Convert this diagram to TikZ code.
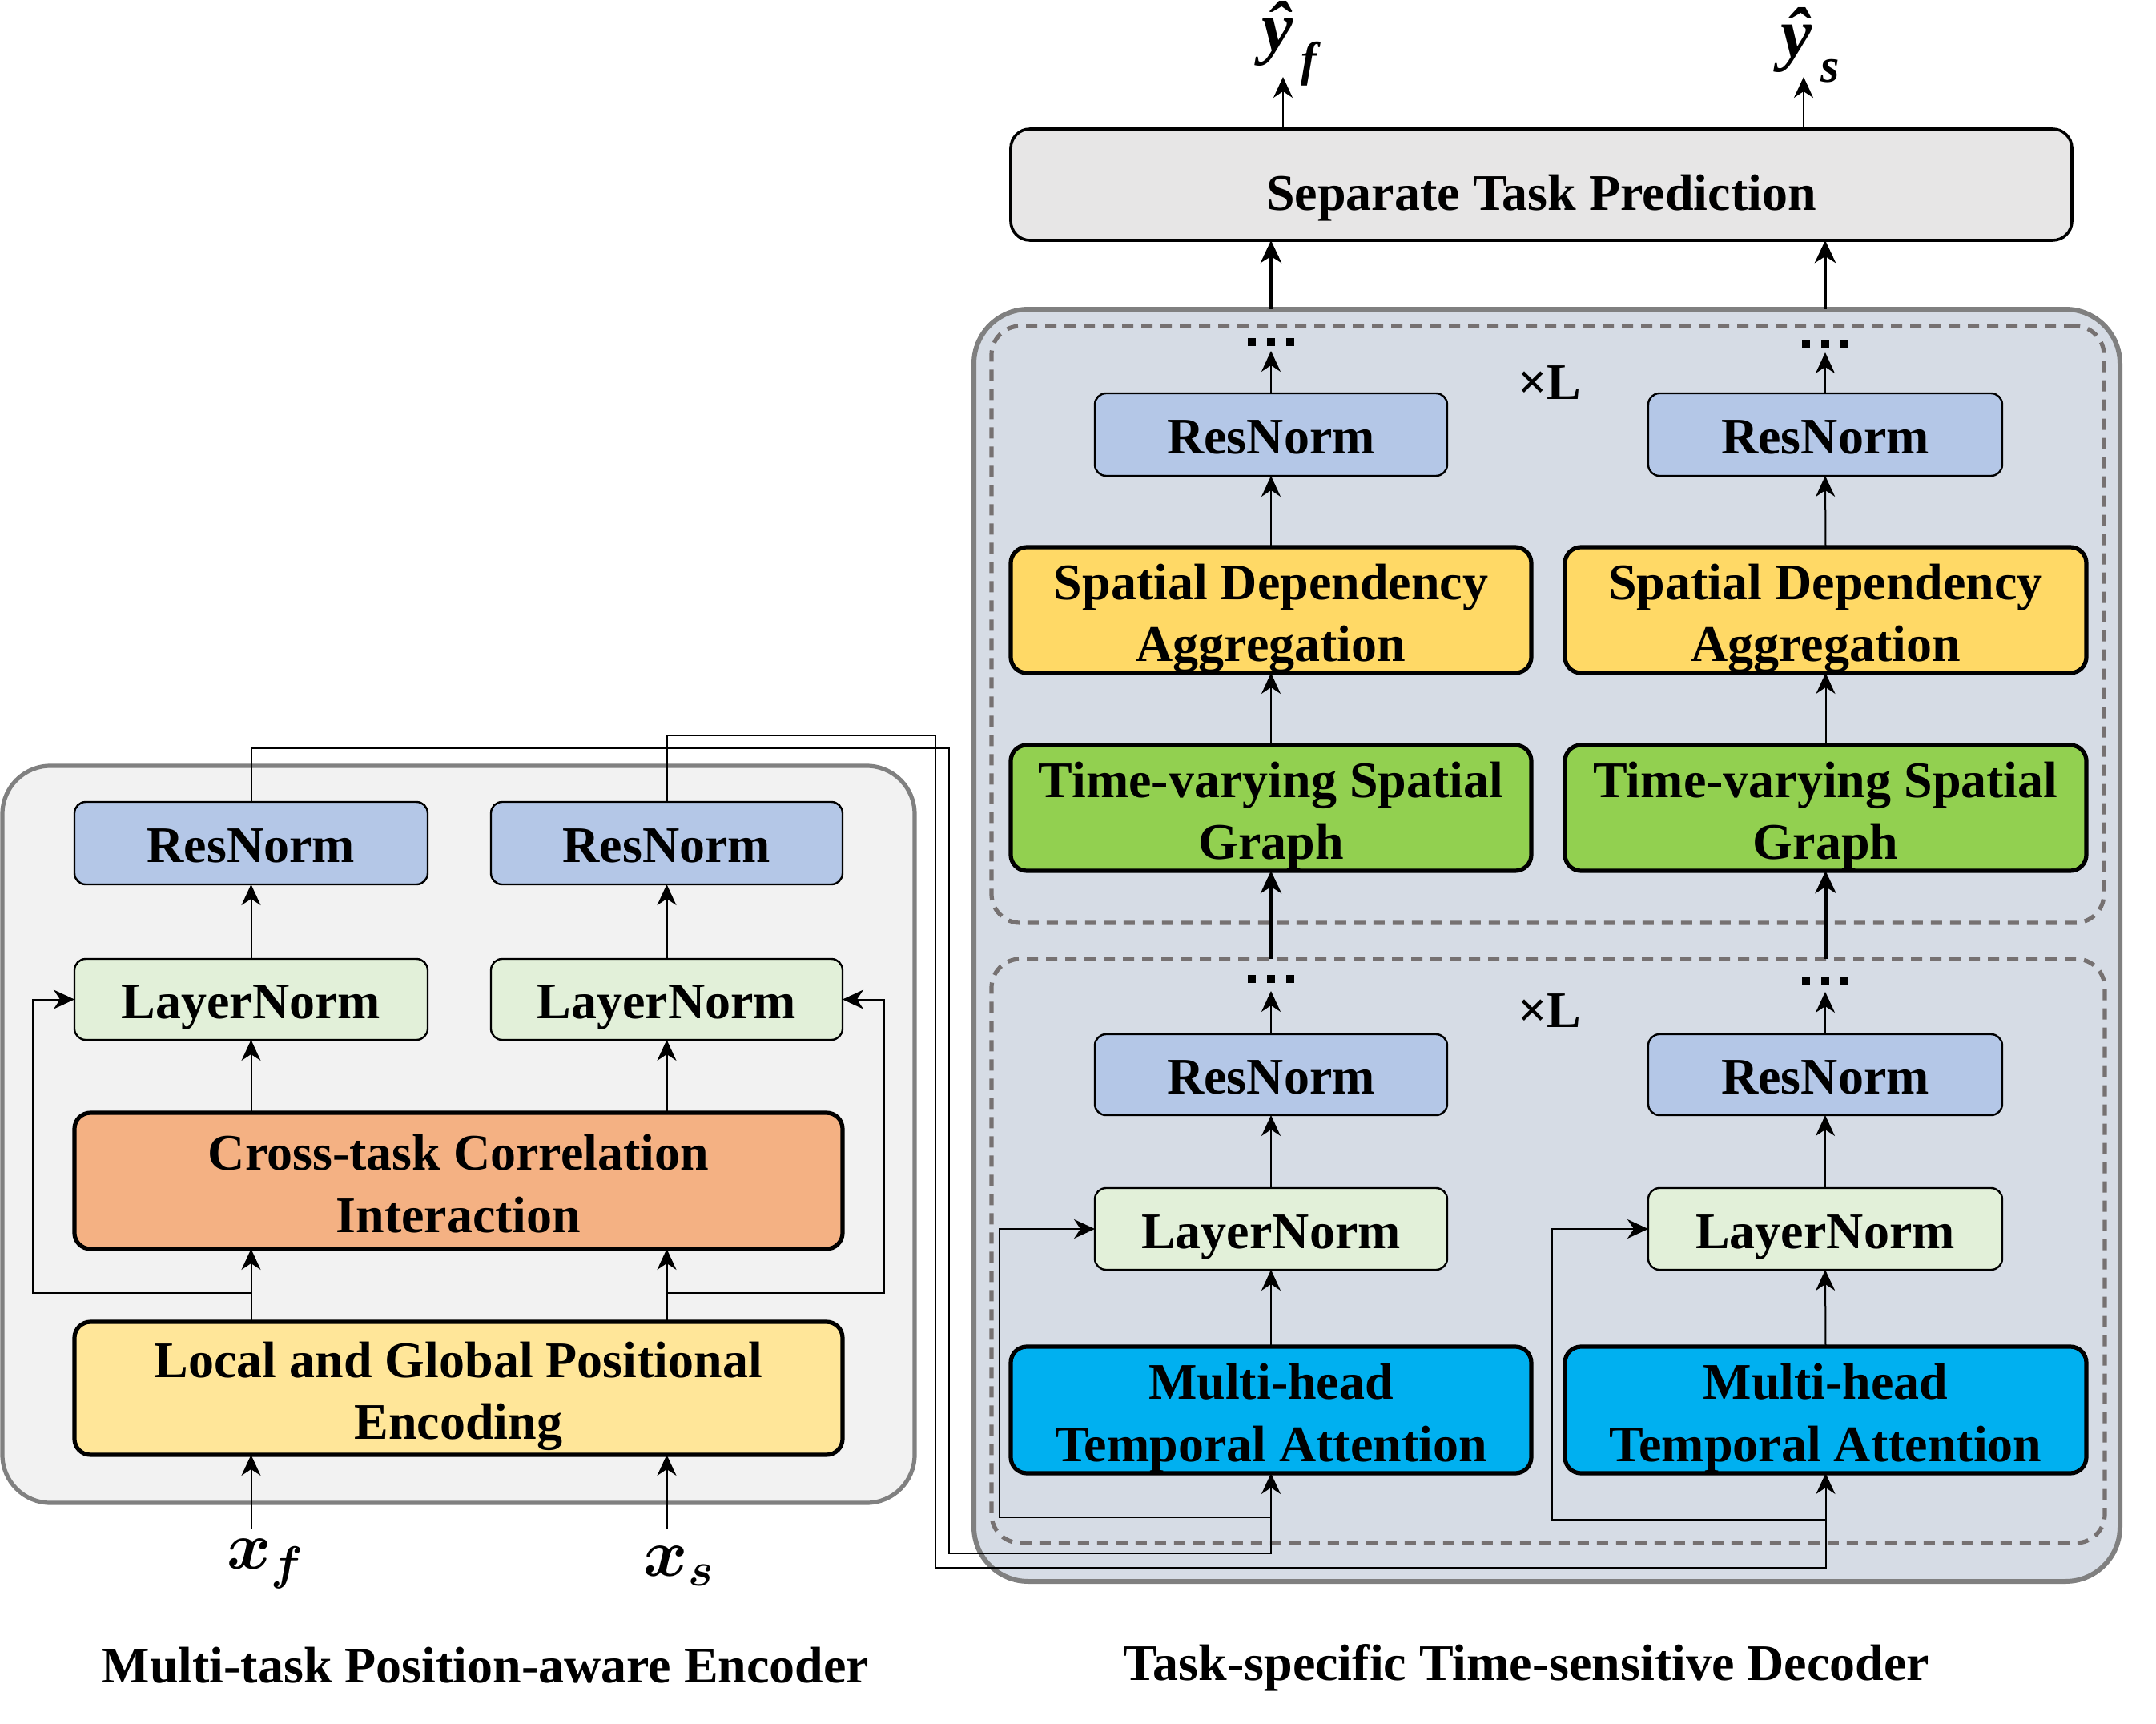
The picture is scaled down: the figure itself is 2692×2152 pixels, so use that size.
\RequirePackage{fix-cm}
\documentclass[tikz,border=0pt]{standalone}
\usepackage{amsmath}
\usepackage{fontspec}
\setmainfont{Liberation Serif}
\usetikzlibrary{arrows.meta}
\definecolor{rncol}{HTML}{B4C7E7}
\definecolor{lncol}{HTML}{E2F0D9}
\definecolor{cticol}{HTML}{F4B183}
\definecolor{lgpecol}{HTML}{FFE699}
\definecolor{sdacol}{HTML}{FFD966}
\definecolor{tvcol}{HTML}{92D050}
\definecolor{mtacol}{HTML}{00B0F0}
\definecolor{stpcol}{HTML}{E7E6E6}
\definecolor{encbg}{HTML}{F2F2F2}
\definecolor{decbg}{HTML}{D6DCE5}
\definecolor{bordgray}{HTML}{808080}
\definecolor{dashc}{HTML}{767171}
% \bx[box style]{name}{x1}{y1}{x2}{y2}{text options}{text}
\newcommand\bx[8][]{%
  \node[#1, minimum width={(#5-#3)*0.25pt}, minimum height={(#6-#4)*0.25pt}] (#2) at ({(#3+#5)/2},{(#4+#6)/2}) {};
  \node[base, #7] (#2-t) at (#2.center) {#8};}
\newcommand\yhatlab[1]{{\fontsize{22}{26}\selectfont\bfseries\itshape ŷ\kern0.12em\raisebox{-0.35em}{\fontsize{15}{18}\selectfont #1}}}
\begin{document}
\begin{tikzpicture}[x=0.25pt,y=-0.25pt,
  base/.style={inner sep=0pt, outer sep=0pt, align=center, font=\fontsize{16}{19.3}\selectfont\bfseries},
  one/.style={text height=12pt, text depth=0pt},
  two/.style={yshift=-2.5pt},
  boxbase/.style={inner sep=0pt, outer sep=0pt},
  thinbox/.style={boxbase, draw=black, line width=0.6pt, rounded corners=3.5pt},
  thickbox/.style={boxbase, draw=black, line width=1.3pt, rounded corners=5pt},
  arr/.style={-{Stealth[length=6.5pt,width=6pt,inset=2pt]}, line width=0.5pt},
  tarr/.style={-{Stealth[length=7pt,width=6.5pt,inset=2pt]}, line width=1.2pt},
  dashbox/.style={boxbase, draw=dashc, line width=1.3pt, dash pattern=on 3.5pt off 2.5pt, rounded corners=9pt},
  title/.style={inner sep=0pt, font=\fontsize{16}{19.3}\selectfont\bfseries},
  mathlab/.style={inner sep=0pt, font=\fontsize{21}{25}\selectfont},
]
\useasboundingbox (0,0) rectangle (2692,2152);

% backgrounds
\node[boxbase, fill=encbg, draw=bordgray, line width=1.3pt, rounded corners=15pt, minimum width={1139*0.25pt}, minimum height={920*0.25pt}] (enc) at (572.5,1416) {};
\node[boxbase, fill=decbg, draw=bordgray, line width=1.5pt, rounded corners=17pt, minimum width={1431*0.25pt}, minimum height={1588*0.25pt}] (dec) at (1931.5,1180) {};
\node[dashbox, minimum width={1389*0.25pt}, minimum height={745*0.25pt}] (dashU) at (1932.5,779.5) {};
\node[dashbox, minimum width={1390*0.25pt}, minimum height={729*0.25pt}] (dashL) at (1933,1561.5) {};

% encoder boxes
\bx[thinbox, fill=rncol]{rnE1}{93}{1001}{534}{1104}{one}{ResNorm}
\bx[thinbox, fill=rncol]{rnE2}{613}{1001}{1052}{1104}{one}{ResNorm}
\bx[thinbox, fill=lncol]{lnE1}{93}{1197}{534}{1298}{one}{LayerNorm}
\bx[thinbox, fill=lncol]{lnE2}{613}{1197}{1052}{1298}{one}{LayerNorm}
\bx[thickbox, fill=cticol]{cti}{93}{1389}{1052}{1559}{yshift=-0.9pt}{Cross-task Correlation\\Interaction}
\bx[thickbox, fill=lgpecol]{lgpe}{93}{1650}{1052}{1816}{two}{Local and Global Positional\\Encoding}

% decoder boxes
\bx[thickbox, line width=0.9pt, rounded corners=6pt, fill=stpcol]{stp}{1262}{161}{2587}{300}{one, yshift=-2pt}{Separate Task Prediction}
\bx[thinbox, fill=rncol]{rnU1}{1367}{491}{1807}{594}{one}{ResNorm}
\bx[thinbox, fill=rncol]{rnU2}{2058}{491}{2500}{594}{one}{ResNorm}
\bx[thickbox, fill=sdacol]{sda1}{1262}{683}{1912}{840}{two}{Spatial Dependency\\Aggregation}
\bx[thickbox, fill=sdacol]{sda2}{1954}{683}{2605}{840}{two}{Spatial Dependency\\Aggregation}
\bx[thickbox, fill=tvcol]{tv1}{1262}{930}{1912}{1087}{two}{Time-varying Spatial\\Graph}
\bx[thickbox, fill=tvcol]{tv2}{1954}{930}{2605}{1087}{two}{Time-varying Spatial\\Graph}
\bx[thinbox, fill=rncol]{rnL1}{1367}{1291}{1807}{1392}{one}{ResNorm}
\bx[thinbox, fill=rncol]{rnL2}{2058}{1291}{2500}{1392}{one}{ResNorm}
\bx[thinbox, fill=lncol]{ln1}{1367}{1483}{1807}{1585}{one}{LayerNorm}
\bx[thinbox, fill=lncol]{ln2}{2058}{1483}{2500}{1585}{one}{LayerNorm}
\bx[thickbox, fill=mtacol]{mta1}{1262}{1681}{1912}{1839}{two}{Multi-head\\Temporal Attention}
\bx[thickbox, fill=mtacol]{mta2}{1954}{1681}{2605}{1839}{two}{Multi-head\\Temporal Attention}

% labels
\node[title] (xL1) at (1935,478) {×L};
\node[title] (xL2) at (1935,1262) {×L};
\node[title] (encT) at (606,2079) {Multi-task Position-aware Encoder};
\node[title] (decT) at (1906,2082) {Task-specific Time-sensitive Decoder};
\node[mathlab] (xf) at (332,1952) {$\boldsymbol{x}_{\boldsymbol{f}}$};
\node[mathlab] (xs) at (848,1955) {$\boldsymbol{x}_{\boldsymbol{s}}$};
\node[inner sep=0pt] (yf) at (1610,54) {\yhatlab{f}};
\node[inner sep=0pt] (ys) at (2260,56) {\yhatlab{s}};

% encoder connectors
\coordinate (inF) at (313.5,1909);
\coordinate (inS) at (832.5,1909);
\draw[arr] (inF) -- (lgpe.south -| inF);
\draw[arr] (inS) -- (lgpe.south -| inS);
\draw[arr] (lgpe.north -| inF) -- (cti.south -| inF);
\draw[arr] (lgpe.north -| inS) -- (cti.south -| inS);
\draw[arr] (cti.north -| inF) -- (lnE1.south);
\draw[arr] (cti.north -| inS) -- (lnE2.south);
\draw[arr] (lnE1.north) -- (rnE1.south);
\draw[arr] (lnE2.north) -- (rnE2.south);
\coordinate (jF) at (313.5,1614);
\coordinate (jS) at (832.5,1614);
\draw[arr] (jF) -| (41,1247.5) -- (lnE1.west);
\draw[arr] (jS) -| (1104,1247.5) -- (lnE2.east);

% encoder to decoder
\draw[arr] (rnE1.north) |- (1185,934) -- (1185,1939) -| (mta1.south);
\draw[arr] (rnE2.north) |- (1168,918) -- (1168,1957) -| (mta2.south);

% decoder skips
\coordinate (dj1) at (1587,1894);
\coordinate (dj2) at (2279.5,1897);
\draw[arr] (dj1) -| (1248,1534) -- (ln1.west);
\draw[arr] (dj2) -| (1938,1534) -- (ln2.west);

% decoder lower block
\draw[arr] (mta1.north) -- (ln1.south);
\draw[arr] (mta2.north) -- (ln2.south);
\draw[arr] (ln1.north) -- (rnL1.south);
\draw[arr] (ln2.north) -- (rnL2.south);
\coordinate (dL1) at (1587,1237);
\coordinate (dL2) at (2279,1238);
\draw[arr] (rnL1.north) -- (dL1);
\draw[arr] (rnL2.north) -- (dL2);
\draw[tarr] (tv1.south |- dashL.north) -- (tv1.south);
\draw[tarr] (tv2.south |- dashL.north) -- (tv2.south);

% decoder upper block
\draw[arr] (tv1.north) -- (sda1.south);
\draw[arr] (tv2.north) -- (sda2.south);
\draw[arr] (sda1.north) -- (rnU1.south);
\draw[arr] (sda2.north) -- (rnU2.south);
\coordinate (dU1) at (1587,438);
\coordinate (dU2) at (2279,440);
\draw[arr] (rnU1.north) -- (dU1);
\draw[arr] (rnU2.north) -- (dU2);
\draw[tarr] (rnU1.north |- dec.north) -- (rnU1.north |- stp.south);
\draw[tarr] (rnU2.north |- dec.north) -- (rnU2.north |- stp.south);

% outputs
\coordinate (oF) at (1602,161);
\coordinate (oS) at (2252,161);
\draw[arr] (oF) -- (1602,96);
\draw[arr] (oS) -- (2252,96);

% ellipsis dots
\foreach \c/\yy in {1587/427, 2279/429, 1587/1222, 2279/1225} {
  \foreach \d in {-24,0,24} {
    \fill (\c+\d-5,\yy-5) rectangle (\c+\d+5,\yy+5);
  }
}
\end{tikzpicture}
\end{document}
